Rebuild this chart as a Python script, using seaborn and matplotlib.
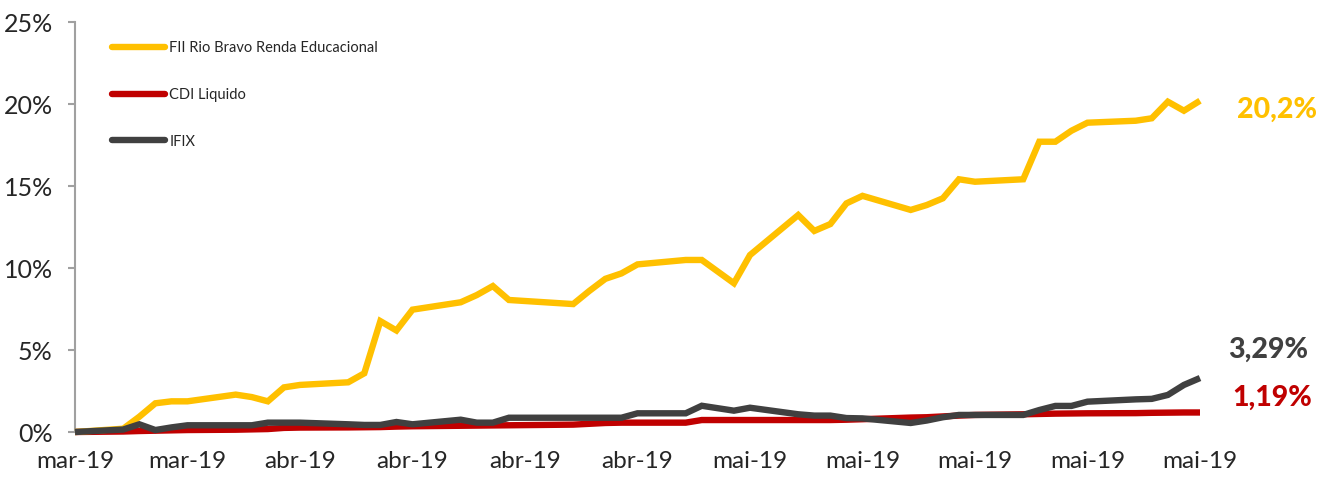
import matplotlib
matplotlib.use("Agg")
import matplotlib.pyplot as plt
import seaborn as sns
import pandas as pd
import numpy as np
from matplotlib.lines import Line2D

# ---------------- data ----------------
dates = ["2019-03-22", "2019-03-25", "2019-03-26", "2019-03-27", "2019-03-28", "2019-03-29",
         "2019-04-01", "2019-04-02", "2019-04-03", "2019-04-04", "2019-04-05",
         "2019-04-08", "2019-04-09", "2019-04-10", "2019-04-11", "2019-04-12",
         "2019-04-15", "2019-04-16", "2019-04-17", "2019-04-18",
         "2019-04-22", "2019-04-23", "2019-04-24", "2019-04-25", "2019-04-26",
         "2019-04-29", "2019-04-30", "2019-05-02", "2019-05-03",
         "2019-05-06", "2019-05-07", "2019-05-08", "2019-05-09", "2019-05-10",
         "2019-05-13", "2019-05-14", "2019-05-15", "2019-05-16", "2019-05-17",
         "2019-05-20", "2019-05-21", "2019-05-22", "2019-05-23", "2019-05-24",
         "2019-05-27", "2019-05-28", "2019-05-29", "2019-05-30", "2019-05-31"]

fii = [0.00, 0.20, 0.93, 1.75, 1.87, 1.87,
       2.28, 2.13, 1.87, 2.72, 2.87,
       3.03, 3.58, 6.76, 6.19, 7.46,
       7.91, 8.35, 8.90, 8.05,
       7.80, 8.60, 9.34, 9.67, 10.22,
       10.49, 10.49, 9.07, 10.79,
       13.23, 12.26, 12.68, 13.94, 14.40,
       13.54, 13.84, 14.25, 15.41, 15.26,
       15.41, 17.70, 17.70, 18.37, 18.86,
       18.98, 19.13, 20.14, 19.59, 20.20]

cdi = [0.00, 0.03, 0.06, 0.08, 0.10, 0.12,
       0.14, 0.16, 0.18, 0.25, 0.27,
       0.28, 0.29, 0.30, 0.33, 0.35,
       0.38, 0.39, 0.40, 0.41,
       0.45, 0.50, 0.55, 0.57, 0.57,
       0.57, 0.73, 0.73, 0.73,
       0.73, 0.73, 0.73, 0.75, 0.78,
       0.88, 0.90, 0.95, 1.00, 1.04,
       1.08, 1.10, 1.12, 1.13, 1.14,
       1.15, 1.17, 1.18, 1.19, 1.19]

ifix = [0.00, 0.15, 0.47, 0.12, 0.28, 0.41,
        0.41, 0.41, 0.57, 0.57, 0.57,
        0.47, 0.43, 0.43, 0.61, 0.47,
        0.75, 0.57, 0.57, 0.87,
        0.87, 0.87, 0.87, 0.87, 1.14,
        1.14, 1.60, 1.30, 1.48,
        1.08, 1.00, 1.00, 0.85, 0.83,
        0.55, 0.70, 0.90, 1.04, 1.04,
        1.04, 1.34, 1.59, 1.59, 1.85,
        1.99, 2.02, 2.26, 2.87, 3.29]

series_names = ["FII Rio Bravo Renda Educacional", "CDI Liquido", "IFIX"]
colors = ["#FFC000", "#C00000", "#404040"]
end_labels = ["20,2%", "1,19%", "3,29%"]

tick_dates = ["2019-03-22", "2019-03-29", "2019-04-05", "2019-04-12", "2019-04-19", "2019-04-26",
              "2019-05-03", "2019-05-10", "2019-05-17", "2019-05-24", "2019-05-31"]
tick_labels = ["mar-19", "mar-19", "abr-19", "abr-19", "abr-19", "abr-19",
               "mai-19", "mai-19", "mai-19", "mai-19", "mai-19"]
y_ticks = [0, 5, 10, 15, 20, 25]
y_labels = ["0%", "5%", "10%", "15%", "20%", "25%"]

# ---------------- build ----------------
sns.set_style("white")
FONT = ["Lato", "DejaVu Sans"]
plt.rcParams["font.family"] = FONT

df = pd.DataFrame({
    "date": pd.to_datetime(dates * 3),
    "value": fii + cdi + ifix,
    "serie": sum([[n] * len(dates) for n in series_names], []),
})

fig = plt.figure(figsize=(13.27, 4.90), dpi=100)
ax = fig.add_axes([75 / 1327, (490 - 432) / 490, 1125 / 1327, (432 - 22) / 490])

sns.lineplot(data=df, x="date", y="value", hue="serie", hue_order=series_names,
             palette=dict(zip(series_names, colors)), linewidth=4.6, ax=ax,
             legend=False)
for ln in ax.lines:
    ln.set_clip_on(False)
    ln.set_solid_capstyle("butt")
    ln.set_solid_joinstyle("miter")

ax.lines[0].set_zorder(3)
ax.lines[1].set_zorder(2)
ax.lines[2].set_zorder(4)

ax.set_xlim(pd.Timestamp(dates[0]), pd.Timestamp(dates[-1]))
ax.set_ylim(0, 25)
ax.set_xticks(pd.to_datetime(tick_dates))
ax.set_xticklabels(tick_labels)
ax.set_yticks(y_ticks)
ax.set_yticklabels(y_labels)
ax.set_xlabel("")
ax.set_ylabel("")

for s in ["top", "right", "bottom"]:
    ax.spines[s].set_visible(False)
ax.spines["left"].set_color("#A0A0A0")
ax.spines["left"].set_linewidth(1.5)
ax.tick_params(axis="y", direction="out", length=5, width=1.5, color="#A0A0A0",
               pad=11, labelsize=18, labelcolor="#262626", left=True)
ax.tick_params(axis="x", length=0, pad=14, labelsize=17.5, labelcolor="#262626")

# legend
handles = [Line2D([0], [0], color=c, lw=4.6, solid_capstyle="round") for c in colors]
leg = ax.legend(handles, series_names, loc="upper left", bbox_to_anchor=(0.028, 0.968),
                frameon=False, fontsize=10.5, handlelength=3.6, handletextpad=0.3,
                labelspacing=2.25, borderaxespad=0)
for t in leg.get_texts():
    t.set_color("#262626")

# end labels
offsets = [(37, -9), (32, 15), (28, 28)]
for vals, lab, col, off in zip([fii, cdi, ifix], end_labels, colors, offsets):
    ax.annotate(lab, xy=(pd.Timestamp(dates[-1]), vals[-1]), xytext=off,
                textcoords="offset pixels", ha="left", va="center",
                fontsize=20.5, fontweight="black", color=col, annotation_clip=False)

fig.savefig("out.png", dpi=100)
